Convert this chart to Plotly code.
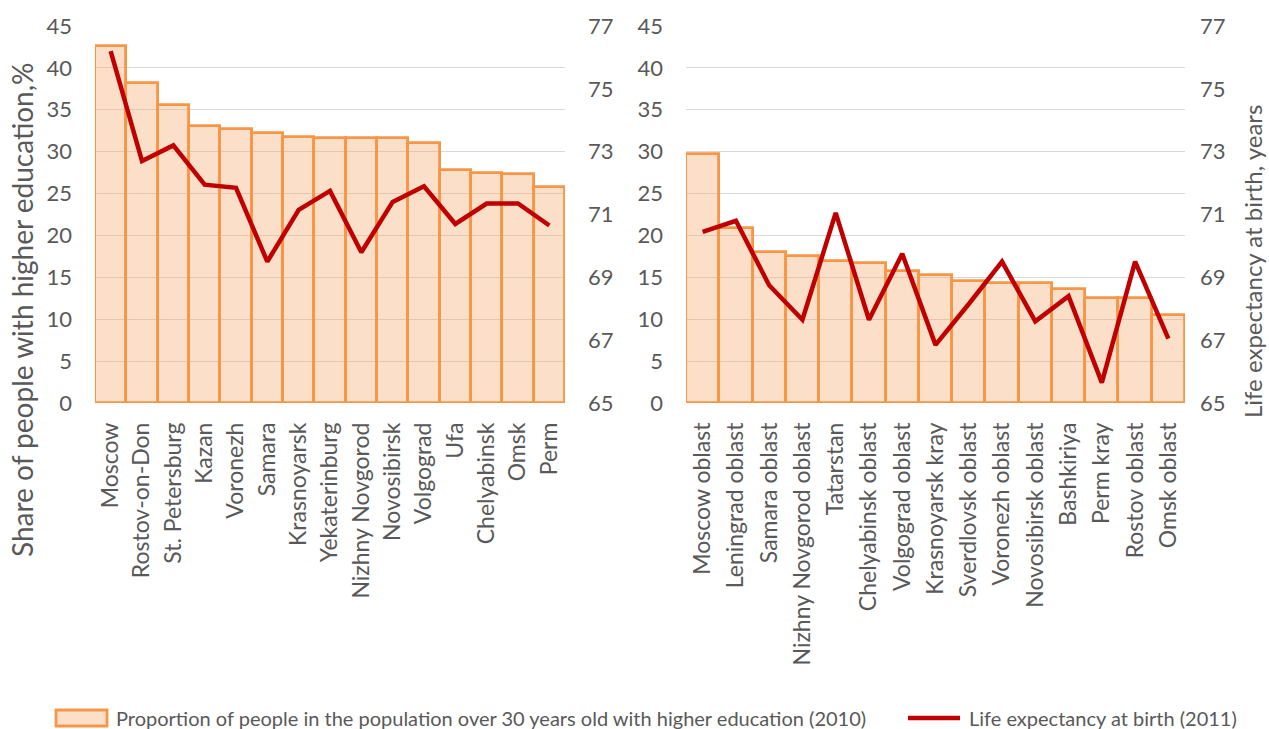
import plotly.graph_objects as go

# Cities: share of adults (30+) with higher education, 2010, % and life expectancy, 2011, years
cities = ["Moscow", "Rostov-on-Don", "St. Petersburg", "Kazan", "Voronezh", "Samara",
          "Krasnoyarsk", "Yekaterinburg", "Nizhny Novgorod", "Novosibirsk", "Volgograd",
          "Ufa", "Chelyabinsk", "Omsk", "Perm"]
city_edu = [42.6, 38.2, 35.6, 33.1, 32.7, 32.2, 31.8, 31.6, 31.6, 31.6, 31.0, 27.8, 27.5, 27.3, 25.8]
city_life = [76.2, 72.7, 73.2, 71.95, 71.85, 69.5, 71.15, 71.75, 69.8, 71.4, 71.9, 70.7, 71.35, 71.35, 70.65]

# Regions: same indicators
regions = ["Moscow oblast", "Leningrad oblast", "Samara oblast", "Nizhny Novgorod oblast",
           "Tatarstan", "Chelyabinsk oblast", "Volgograd oblast", "Krasnoyarsk kray",
           "Sverdlovsk oblast", "Voronezh oblast", "Novosibirsk oblast", "Bashkiriya",
           "Perm kray", "Rostov oblast", "Omsk oblast"]
region_edu = [29.7, 20.9, 18.0, 17.5, 16.9, 16.7, 15.7, 15.3, 14.6, 14.3, 14.3, 13.6, 12.5, 12.5, 10.5]
region_life = [70.45, 70.8, 68.75, 67.65, 71.05, 67.65, 69.75, 66.85, 68.15, 69.5, 67.6, 68.4, 65.65, 69.5, 67.05]

edu_ticks = list(range(0, 50, 5))
life_ticks = list(range(65, 79, 2))

W, H = 1269, 729
FONT = "Lato"
GREY = "#595959"
BAR_FILL = "rgba(248,170,110,0.38)"
BAR_LINE = "#F79646"
LINE_RED = "#C00000"

edu_name = "Proportion of people in the population over 30 years old with higher education (2010)"
life_name = "Life expectancy at birth (2011)"


def fx(px):
    return px / W


def fy(py):
    return 1 - py / H


y_dom = [fy(403), fy(26)]

fig = go.Figure()

fig.add_trace(go.Bar(x=cities, y=city_edu, name=edu_name, xaxis="x", yaxis="y",
                     marker=dict(color=BAR_FILL, line=dict(color=BAR_LINE, width=2.8))))
fig.add_trace(go.Scatter(x=cities, y=city_life, name=life_name, xaxis="x", yaxis="y2",
                         mode="lines", line=dict(color=LINE_RED, width=4.5)))
fig.add_trace(go.Bar(x=regions, y=region_edu, name=edu_name, xaxis="x2", yaxis="y3",
                     marker=dict(color=BAR_FILL, line=dict(color=BAR_LINE, width=2.8))))
fig.add_trace(go.Scatter(x=regions, y=region_life, name=life_name, xaxis="x2", yaxis="y4",
                         mode="lines", line=dict(color=LINE_RED, width=4.5)))

tick_font = dict(family=FONT, size=22, color=GREY)
cat_font = dict(family=FONT, size=23, color=GREY)

edu_axis = dict(range=[0, 45], tickvals=edu_ticks, showgrid=True, gridcolor="#D9D9D9",
                gridwidth=1, zeroline=False, showline=False, ticks="", tickfont=tick_font,
                domain=y_dom, automargin=False)
life_axis = dict(range=[65, 77], tickvals=life_ticks, showgrid=False, zeroline=False,
                 showline=False, ticks="", tickfont=tick_font, side="right", automargin=False)
cat_axis = dict(type="category", tickangle=-90, tickfont=cat_font, showgrid=False,
                zeroline=False, showline=False, ticks="", automargin=False,
                ticklabelstandoff=14)

fig.update_layout(
    template="plotly_white",
    width=W, height=H,
    margin=dict(l=0, r=0, t=0, b=0, autoexpand=False),
    paper_bgcolor="white", plot_bgcolor="white",
    font=dict(family=FONT, color=GREY),
    bargap=0,
    showlegend=False,
    xaxis=dict(cat_axis, domain=[fx(95), fx(565)], anchor="y"),
    yaxis=dict(edu_axis, anchor="x", ticklabelstandoff=22),
    yaxis2=dict(life_axis, overlaying="y", anchor="x", ticklabelstandoff=22),
    xaxis2=dict(cat_axis, domain=[fx(686), fx(1185)], anchor="y3"),
    yaxis3=dict(edu_axis, anchor="x2", ticklabelstandoff=22),
    yaxis4=dict(life_axis, overlaying="y3", anchor="x2", ticklabelstandoff=14),
)

# Axis titles
fig.add_annotation(text="Share of people with higher education,%", textangle=-90,
                   x=fx(22), y=fy(310), xref="paper", yref="paper",
                   xanchor="center", yanchor="middle",
                   showarrow=False, font=dict(family=FONT, size=28, color=GREY))
fig.add_annotation(text="Life expectancy at birth, years", textangle=-90,
                   x=fx(1252), y=fy(262), xref="paper", yref="paper",
                   xanchor="center", yanchor="middle",
                   showarrow=False, font=dict(family=FONT, size=24, color=GREY))

# Legend along the bottom edge: key marks plus their labels
leg_y = 718
fig.add_shape(type="rect", xref="paper", yref="paper",
              x0=fx(56), x1=fx(107), y0=fy(leg_y + 8), y1=fy(leg_y - 8),
              fillcolor=BAR_FILL, line=dict(color=BAR_LINE, width=2.8))
fig.add_annotation(text=edu_name, x=fx(114), y=fy(leg_y), xref="paper", yref="paper",
                   xanchor="left", yanchor="middle", showarrow=False,
                   font=dict(family=FONT, size=20, color=GREY))
fig.add_shape(type="line", xref="paper", yref="paper",
              x0=fx(908), x1=fx(960), y0=fy(leg_y), y1=fy(leg_y),
              line=dict(color=LINE_RED, width=4.5))
fig.add_annotation(text=life_name, x=fx(967), y=fy(leg_y), xref="paper", yref="paper",
                   xanchor="left", yanchor="middle", showarrow=False,
                   font=dict(family=FONT, size=20, color=GREY))

fig.write_html("out.html")
